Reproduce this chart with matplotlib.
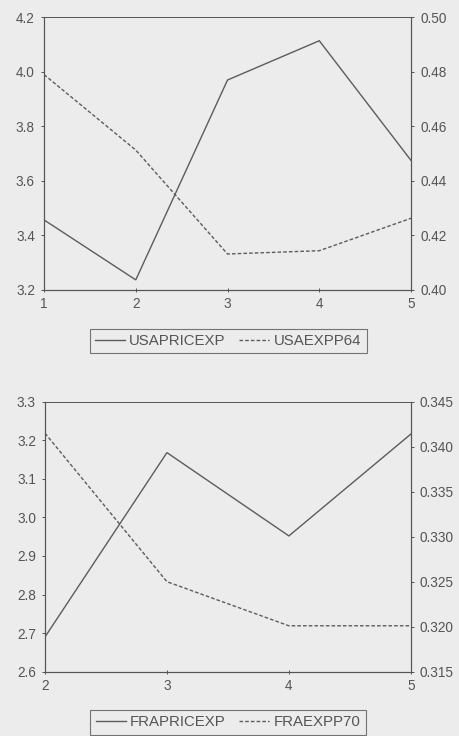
import matplotlib
matplotlib.use("Agg")
import matplotlib.pyplot as plt
from matplotlib.lines import Line2D

plt.rcParams['font.family'] = ['Liberation Sans', 'DejaVu Sans']

# Top panel data
usa_x = [1, 2, 3, 4, 5]
usa_priceexp = [3.457, 3.237, 3.97, 4.114, 3.675]
usa_expp64 = [0.4790, 0.4513, 0.4132, 0.4144, 0.4263]
usa_left_ticks = [3.2, 3.4, 3.6, 3.8, 4.0, 4.2]
usa_right_ticks = [0.40, 0.42, 0.44, 0.46, 0.48, 0.50]

# Bottom panel data
fra_x = [2, 3, 4, 5]
fra_priceexp = [2.69, 3.168, 2.952, 3.216]
fra_expp70 = [0.3415, 0.3250, 0.3201, 0.3201]
fra_left_ticks = [2.6, 2.7, 2.8, 2.9, 3.0, 3.1, 3.2, 3.3]
fra_right_ticks = [0.315, 0.320, 0.325, 0.330, 0.335, 0.340, 0.345]

BG = '#ececec'
LC = '#5c5c5c'
TC = '#555555'
FS = 9.8
DASH = (0, (2.6, 1.5))

fig = plt.figure(figsize=(4.59, 7.36), dpi=100, facecolor=BG)


def panel(rect, x, solid, dashed, lt, rt, lfmt, rfmt, names, leg_y):
    ax = fig.add_axes(rect)
    ax.set_facecolor(BG)
    ax2 = ax.twinx()
    ax.plot(x, solid, color=LC, lw=1.0, solid_joinstyle='miter')
    ax2.plot(x, dashed, color=LC, lw=1.0, linestyle=DASH)
    ax.set_xlim(x[0], x[-1])
    ax.set_xticks(x)
    ax.set_ylim(lt[0], lt[-1])
    ax.set_yticks(lt)
    ax.set_yticklabels([lfmt.format(v) for v in lt])
    ax2.set_ylim(rt[0], rt[-1])
    ax2.set_yticks(rt)
    ax2.set_yticklabels([rfmt.format(v) for v in rt])
    for a in (ax, ax2):
        for s in a.spines.values():
            s.set_color('#555555')
            s.set_linewidth(0.8)
        a.spines['top'].set_linewidth(0.6)
        a.tick_params(colors='#555555', labelcolor=TC, labelsize=FS,
                      length=2.5, width=0.7, pad=4)
    ax.tick_params(axis='x', direction='inout', length=3, pad=3.5)
    handles = [Line2D([], [], color=LC, lw=1.0),
               Line2D([], [], color=LC, lw=1.0, linestyle=DASH)]
    leg = fig.legend(handles, names, loc='center', bbox_to_anchor=(0.497, leg_y),
                     ncol=2, fontsize=10.8, frameon=True, fancybox=False,
                     handlelength=2.0, handletextpad=0.3, columnspacing=0.9,
                     borderpad=0.35, borderaxespad=0, edgecolor='#555555',
                     facecolor=BG)
    leg.get_frame().set_linewidth(0.8)
    for t in leg.get_texts():
        t.set_color(TC)
    return ax, ax2


panel([0.0959, 0.606, 0.7996, 0.3705], usa_x, usa_priceexp, usa_expp64,
      usa_left_ticks, usa_right_ticks, '{:.1f}', '{:.2f}',
      ['USAPRICEXP', 'USAEXPP64'], 0.5367)
panel([0.098, 0.0874, 0.797, 0.3668], fra_x, fra_priceexp, fra_expp70,
      fra_left_ticks, fra_right_ticks, '{:.1f}', '{:.3f}',
      ['FRAPRICEXP', 'FRAEXPP70'], 0.0185)

fig.savefig('out.png', dpi=100, facecolor=BG)
